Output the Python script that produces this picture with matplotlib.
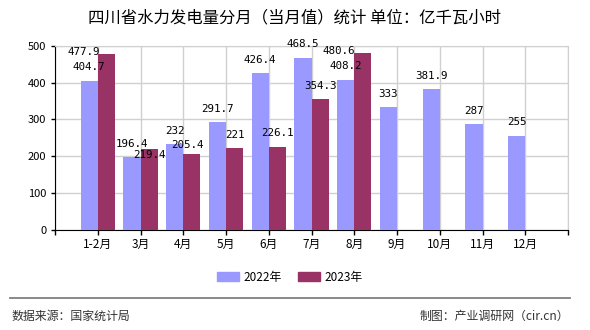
import numpy as np
import matplotlib.pyplot as plt
from matplotlib.patches import Patch

plt.rcParams['font.family'] = ['Noto Sans CJK SC', 'DejaVu Sans']

# data
months = ["1-2月", "3月", "4月", "5月", "6月", "7月", "8月", "9月", "10月", "11月", "12月"]
values_2022 = [404.7, 196.4, 232, 291.7, 426.4, 468.5, 408.2, 333, 381.9, 287, 255]
values_2023 = [477.9, 219.4, 205.4, 221, 226.1, 354.3, 480.6]
series_names = ["2022年", "2023年"]

# label nudges (pixels) where the source moved labels to avoid overlap
offsets_2023 = [(-23, -11), (0, -20), (-4, -4), (0, 0), (0, 0), (0, 0), (-24, -11)]

COLOR_2022 = "#9999ff"
COLOR_2023 = "#993366"
GRID = "#d0d0d0"
LABEL_FONT = "DejaVu Sans Mono"


def fmt(v):
    return f"{v:g}"


def main():
    fig = plt.figure(figsize=(5.9, 3.3), dpi=100)
    ax = fig.add_axes([55 / 590, 1 - 229.5 / 330, 513 / 590, 183.5 / 330])

    x = np.arange(len(months))
    w = 0.4
    bars_a = ax.bar(x[:len(values_2022)] - w / 2, values_2022, width=w, color=COLOR_2022, zorder=3)
    bars_b = ax.bar(x[:len(values_2023)] + w / 2, values_2023, width=w, color=COLOR_2023, zorder=3)

    px = 72 / 100  # pixels -> points
    for rect, v in zip(bars_a, values_2022):
        ax.annotate(fmt(v), (rect.get_x() + rect.get_width() / 2, v),
                    xytext=(0, 8.5 * px), textcoords="offset points",
                    ha="center", va="bottom", fontsize=7.8, family=LABEL_FONT, zorder=5)
    for rect, v, (dx, dy) in zip(bars_b, values_2023, offsets_2023):
        ax.annotate(fmt(v), (rect.get_x() + rect.get_width() / 2, v),
                    xytext=(dx * px, (8.5 + dy) * px), textcoords="offset points",
                    ha="center", va="bottom", fontsize=7.8, family=LABEL_FONT, zorder=5)

    ax.set_xlim(-1, len(months))
    ax.set_ylim(0, 500)
    ax.set_yticks(np.arange(0, 501, 100))
    ax.set_xticks(np.arange(-1, len(months) + 1))
    ax.set_xticklabels([""] + months + [""])
    ax.tick_params(axis="both", length=4.5 * px, width=1, color="black", direction="out")
    ax.tick_params(axis="x", labelsize=8.5, pad=2.5)
    ax.tick_params(axis="y", labelsize=8, pad=3)

    ax.grid(True, color=GRID, linewidth=1, zorder=0)
    ax.set_axisbelow(True)
    ax.spines["left"].set_color("black")
    ax.spines["bottom"].set_color("black")
    ax.spines["top"].set_color(GRID)
    ax.spines["right"].set_color(GRID)

    fig.text(0.5, 1 - 17.5 / 330, "四川省水力发电量分月（当月值）统计 单位：亿千瓦小时",
             ha="center", va="center", fontsize=11.8)

    handles = [Patch(color=COLOR_2022), Patch(color=COLOR_2023)]
    fig.legend(handles, series_names, loc="center", bbox_to_anchor=(290 / 590, 1 - 277 / 330),
               ncol=2, frameon=False, fontsize=8.5, handlelength=1.86, handleheight=0.76,
               handletextpad=0.42, columnspacing=1.35)

    fig.add_artist(plt.Line2D([10 / 590, 570 / 590], [1 - 297.5 / 330] * 2, color="#808080", linewidth=1.3))
    fig.text(11 / 590, 1 - 316 / 330, "数据来源：国家统计局", ha="left", va="center", fontsize=8.6, color="#333333")
    fig.text(569 / 590, 1 - 316 / 330, "制图：产业调研网（cir.cn）", ha="right", va="center", fontsize=8.6, color="#333333")

    fig.savefig("out.png", dpi=100)


if __name__ == "__main__":
    main()
